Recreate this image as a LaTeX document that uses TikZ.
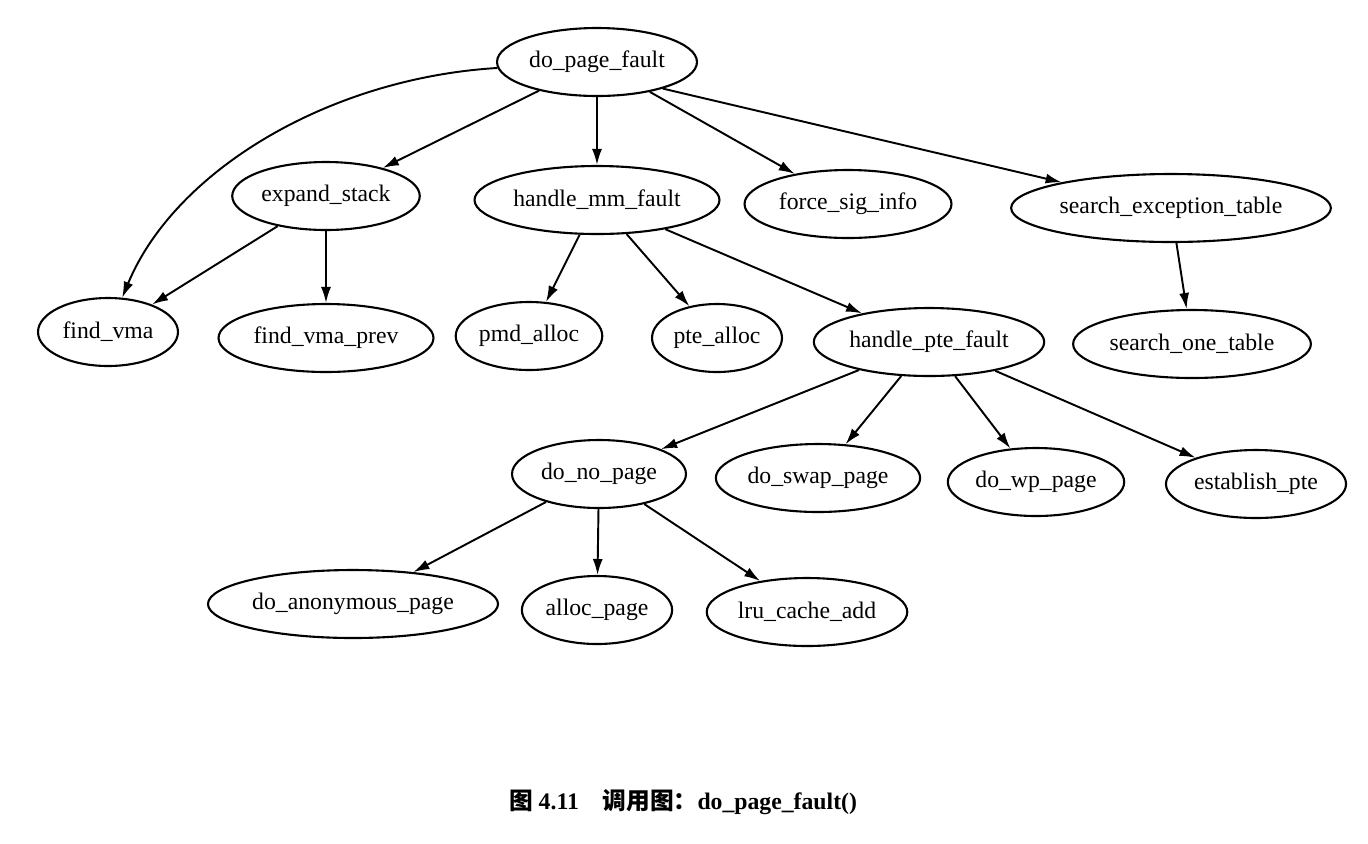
\documentclass[tikz,border=0pt]{standalone}
\usepackage{fontspec}
\setmainfont{Liberation Serif}
\newfontfamily\cjk{Noto Sans CJK SC}
\usetikzlibrary{shapes, arrows.meta}

\begin{document}
\begin{tikzpicture}[
    x=0.02cm, y=-0.02cm,
    func/.style={ellipse, draw=black, line width=1.2pt, fill=none, inner xsep=1pt,
        minimum height=1.36cm, text centered, text=black, font=\fontsize{13.5}{15}\selectfont},
    call/.style={-{Latex[length=3.2mm, width=2mm]}, line width=1.1pt}
]
\useasboundingbox (0,0) rectangle (1368,843);

% level 0
\node (PF) [func, minimum width=4.0cm] at (597,62) {do\_page\_fault};

% level 1
\node (ES) [func, minimum width=3.7cm] at (326,196) {expand\_stack};
\node (HMF) [func, minimum width=4.9cm] at (597,200) {handle\_mm\_fault};
\node (FSI) [func, minimum width=4.14cm] at (848,204) {force\_sig\_info};
\node (SET) [func, minimum width=5.84cm] at (1171,208) {search\_exception\_table};

% level 2
\node (FV) [func, minimum width=2.8cm] at (108,332) {find\_vma};
\node (FVP) [func, minimum width=4.3cm] at (326,338) {find\_vma\_prev};
\node (PMD) [func, minimum width=2.56cm] at (529,336) {pmd\_alloc};
\node (PTE) [func, minimum width=2.6cm] at (717,338) {pte\_alloc};
\node (HPF) [func, minimum width=4.44cm] at (929,342) {handle\_pte\_fault};
\node (SOT) [func, minimum width=4.6cm] at (1192,344) {search\_one\_table};

% level 3
\node (DNP) [func, minimum width=3.48cm] at (599,474) {do\_no\_page};
\node (DSP) [func, minimum width=4.04cm] at (818,478) {do\_swap\_page};
\node (DWP) [func, minimum width=3.34cm] at (1036,482) {do\_wp\_page};
\node (EP) [func, minimum width=3.58cm] at (1256,484) {establish\_pte};

% level 4
\node (DAP) [func, minimum width=5.62cm] at (353,604) {do\_anonymous\_page};
\node (AP) [func, minimum width=2.98cm] at (597,610) {alloc\_page};
\node (LCA) [func, minimum width=3.94cm] at (807,612) {lru\_cache\_add};

% calls
\draw [call] (PF) .. controls (330,78) and (175,170) .. (FV);
\draw [call] (PF) -- (ES);
\draw [call] (PF) -- (HMF);
\draw [call] (PF) -- (FSI);
\draw [call] (PF.-22) -- (SET);
\draw [call] (ES) -- (FV);
\draw [call] (ES) -- (FVP);
\draw [call] (HMF) -- (PMD);
\draw [call] (HMF) -- (PTE);
\draw [call] (HMF) -- (HPF);
\draw [call] (SET) -- (SOT);
\draw [call] (HPF) -- (DNP);
\draw [call] (HPF) -- (DSP);
\draw [call] (HPF) -- (DWP);
\draw [call] (HPF) -- (EP);
\draw [call] (DNP) -- (DAP);
\draw [call] (DNP) -- (AP);
\draw [call] (DNP) -- (LCA);

% caption
\node (CAP) at (683,802) {\bfseries\fontsize{13.5}{15}\selectfont
    {\cjk 图}~4.11\quad{\cjk 调用图：}do\_page\_fault()};
\end{tikzpicture}
\end{document}
